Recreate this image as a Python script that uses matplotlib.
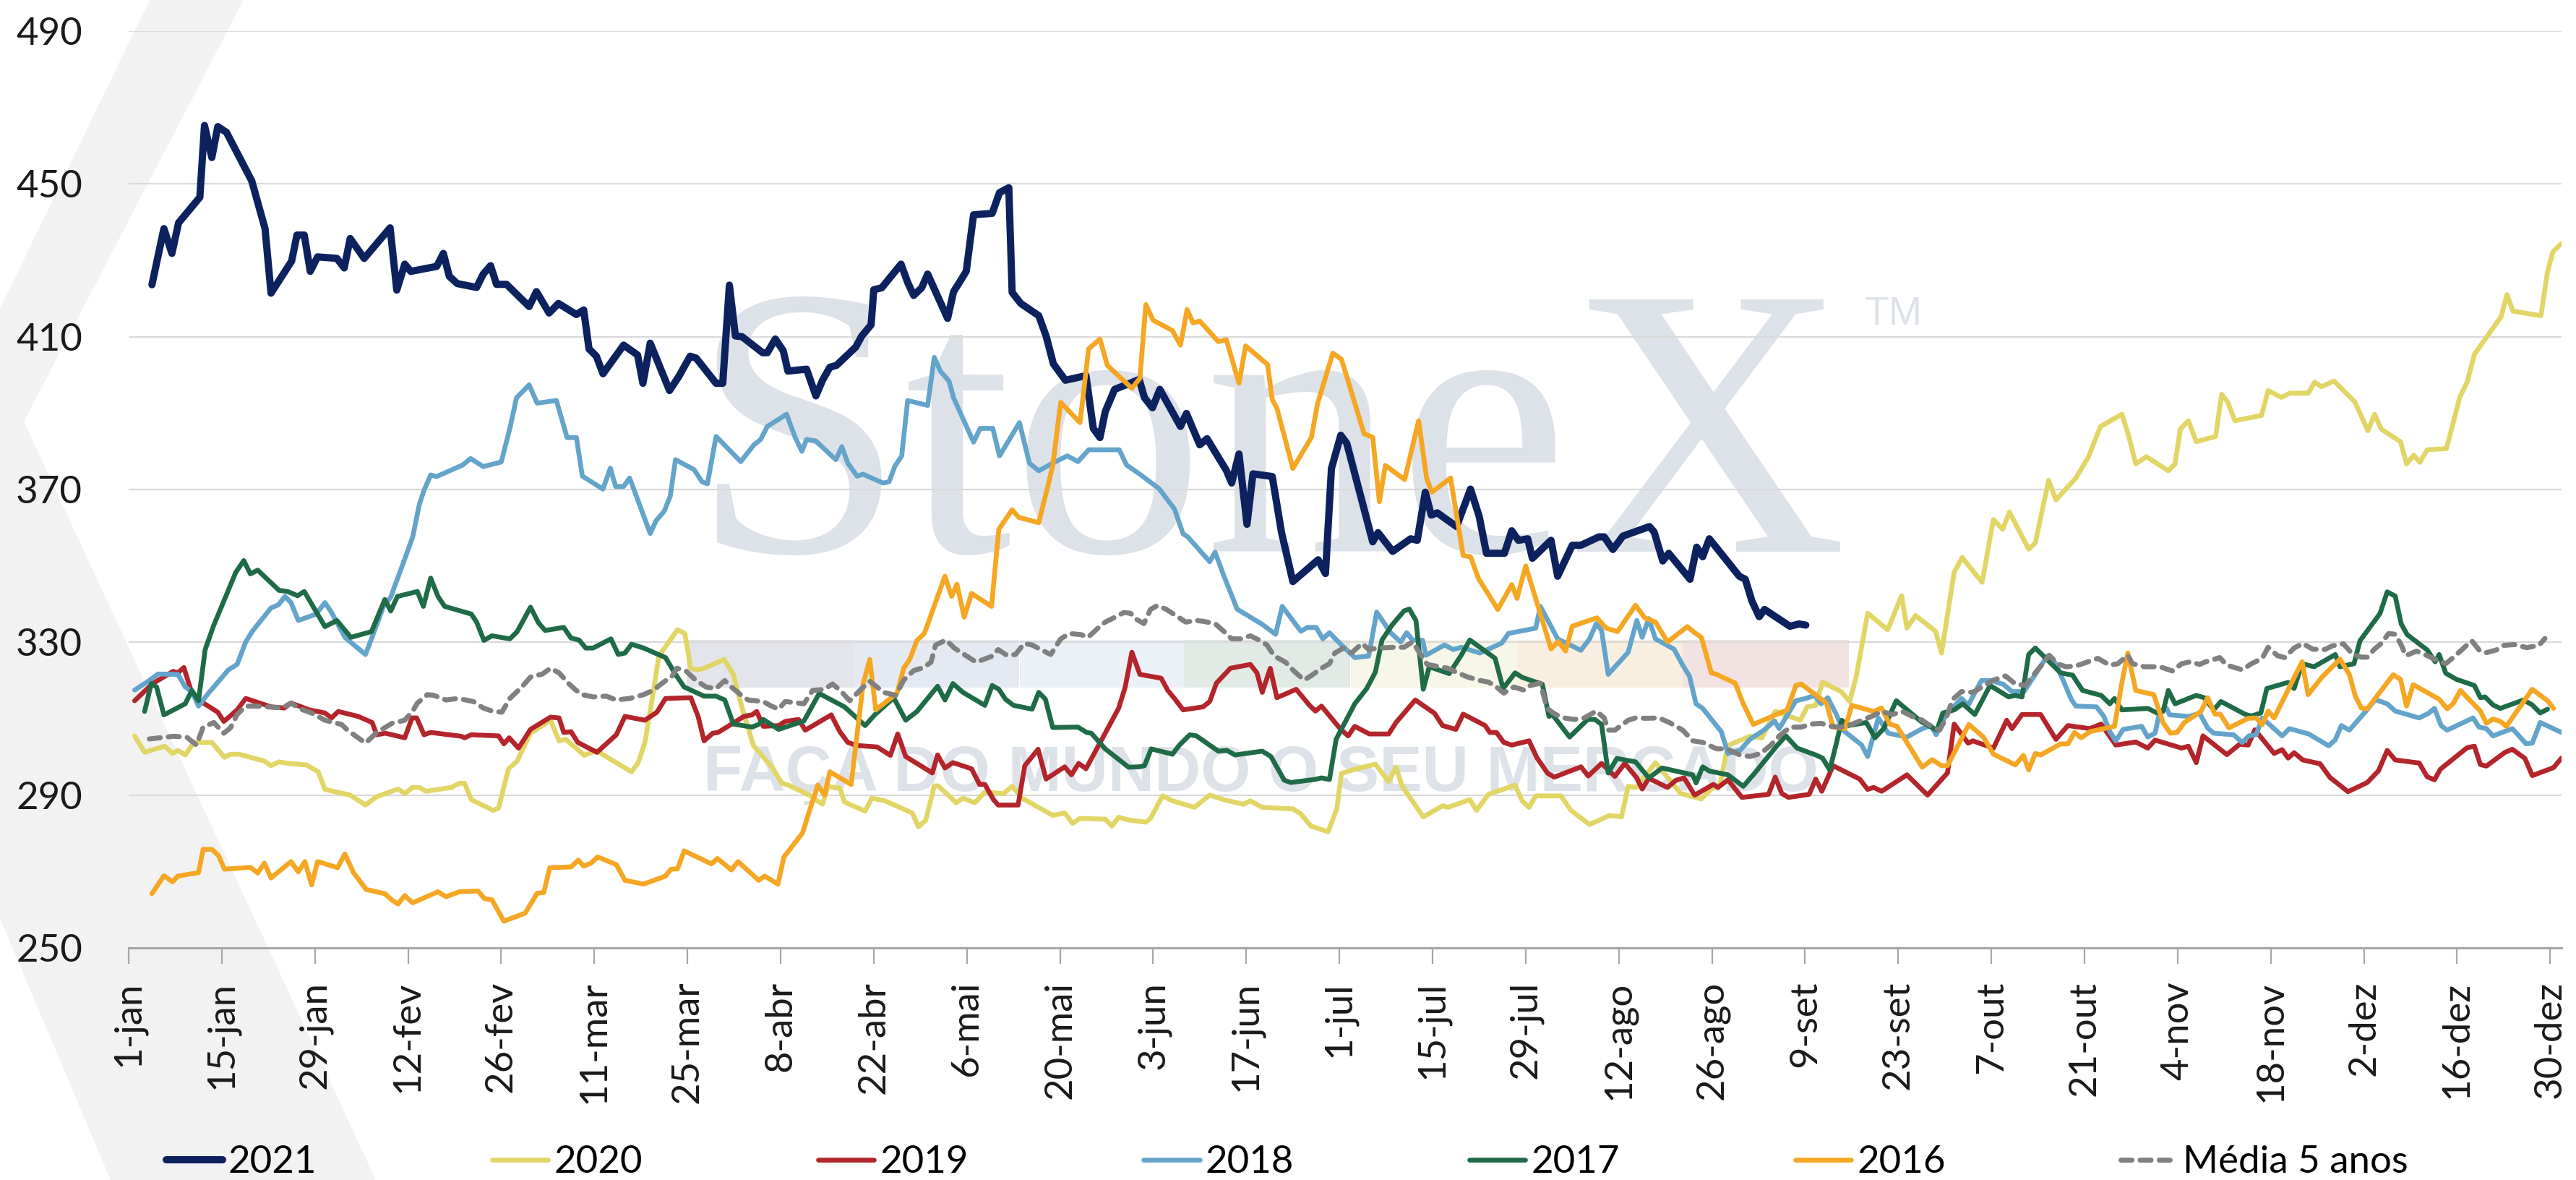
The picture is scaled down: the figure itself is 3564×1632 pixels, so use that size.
# -*- coding: utf-8 -*-
# Preço diário por ano (2016-2021) e média de 5 anos
import matplotlib.pyplot as plt
from matplotlib.patches import Polygon, Rectangle

# ---------------- dados: dia do ano (0 = 1-jan) e valor ----------------
d21 = [3.5, 5.3, 6.5, 7.5, 10.7, 11.4, 12.5, 13.4, 14.7, 18.5, 19.8, 20.5, 21.4, 24.5, 25.3, 26.4, 27.3, 28.4, 31.3, 32.4, 33.3, 35.4, 39.3, 40.3, 41.5, 42.4, 46.3, 47.3, 48.2, 49.4, 52.3, 53.3, 54.4, 55.3, 56.8, 60.2, 61.3, 63.2, 64.6, 67.3, 68.4, 69.2, 70.3, 71.3, 74.4, 76.5, 77.3, 78.4, 81.3, 82.7, 84.4, 85.3, 88.3, 89.3, 90.3, 91.2, 92.2, 95.3, 96.0, 97.2, 98.4, 99.1, 101.9, 103.3, 104.3, 105.4, 106.4, 109.3, 110.2, 111.6, 112.0, 113.2, 116.1, 117.1, 118.0, 119.2, 120.1, 123.1, 124.0, 124.7, 125.9, 127.0, 129.8, 130.9, 132.3, 132.8, 134.1, 136.8, 137.9, 139.0, 140.8, 143.9, 145.0, 146.0, 146.8, 148.2, 151.9, 152.7, 153.9, 155.0, 158.1, 159.0, 161.0, 162.1, 165.0, 165.8, 166.9, 168.1, 169.0, 171.9, 173.3, 175.0, 178.8, 179.9, 180.8, 182.2, 183.1, 187.0, 187.8, 190.0, 192.7, 193.7, 194.9, 195.8, 196.7, 199.6, 201.7, 203.0, 204.1, 206.8, 207.9, 208.9, 210.3, 211.0, 213.8, 214.8, 217.0, 218.3, 221.0, 221.8, 223.1, 224.6, 228.6, 229.3, 230.6, 231.5, 234.7, 235.7, 236.6, 237.6, 242.1, 243.0, 244.0, 245.1, 245.9, 249.7, 251.1, 252.1]
v21 = [423.6, 438.3, 431.8, 439.8, 446.5, 465.3, 456.9, 465.0, 463.5, 450.8, 442.7, 438.3, 421.4, 429.8, 436.6, 436.6, 427.1, 430.9, 430.5, 428.0, 435.7, 430.5, 438.5, 422.2, 429.0, 427.1, 428.4, 431.8, 425.8, 423.9, 422.9, 426.4, 428.6, 423.7, 423.7, 417.9, 421.8, 416.2, 418.7, 415.8, 417.0, 406.8, 404.9, 400.3, 407.8, 405.2, 397.8, 408.3, 395.9, 399.6, 404.9, 404.4, 397.8, 397.8, 423.5, 410.2, 410.0, 405.8, 405.8, 409.4, 406.3, 401.0, 401.5, 394.5, 398.6, 402.0, 402.5, 407.3, 410.2, 413.1, 422.3, 422.8, 429.0, 424.2, 420.8, 422.8, 426.4, 414.8, 421.8, 423.7, 427.1, 441.9, 442.3, 447.7, 449.0, 421.6, 418.7, 415.5, 410.2, 402.9, 398.6, 399.8, 386.0, 383.6, 390.4, 396.2, 398.8, 394.0, 391.4, 396.2, 386.5, 389.9, 381.7, 383.3, 375.0, 371.7, 379.3, 360.9, 374.1, 373.4, 358.7, 345.9, 351.6, 348.0, 375.5, 384.2, 382.1, 356.3, 358.7, 353.8, 357.1, 356.7, 369.3, 363.3, 363.9, 360.3, 370.1, 363.0, 353.3, 353.3, 359.2, 356.7, 357.1, 352.0, 356.7, 347.3, 355.4, 355.4, 357.6, 357.6, 354.3, 357.8, 360.3, 358.9, 351.3, 353.3, 346.5, 354.9, 352.4, 357.1, 347.3, 346.5, 340.8, 336.7, 338.6, 334.2, 334.8, 334.5]

d20 = [0.9, 2.4, 5.4, 6.6, 7.4, 8.5, 9.8, 12.5, 14.4, 15.3, 16.6, 20.4, 21.4, 22.6, 23.9, 26.7, 28.5, 29.5, 33.3, 35.6, 37.3, 40.5, 41.5, 42.7, 43.7, 44.7, 48.5, 49.7, 50.5, 51.5, 54.8, 55.6, 57.1, 58.4, 60.4, 63.4, 64.7, 65.7, 68.5, 70.3, 72.5, 75.6, 76.6, 77.6, 78.7, 79.7, 82.5, 83.6, 84.5, 85.5, 86.5, 89.5, 90.9, 92.1, 93.9, 96.7, 98.2, 99.2, 102.3, 104.3, 105.1, 106.9, 107.6, 110.7, 111.7, 113.7, 117.8, 118.7, 119.8, 121.1, 121.7, 124.4, 125.4, 127.2, 128.7, 131.5, 132.8, 134.3, 138.9, 140.7, 141.9, 143.0, 146.8, 147.8, 148.8, 150.3, 152.9, 153.6, 155.4, 156.9, 160.2, 162.5, 164.6, 167.6, 168.6, 170.4, 175.0, 176.2, 177.7, 180.3, 181.6, 182.3, 184.6, 187.4, 189.4, 190.5, 191.4, 194.6, 197.5, 198.3, 201.6, 202.6, 204.4, 208.4, 209.5, 210.5, 211.5, 215.3, 216.8, 219.6, 222.6, 224.4, 225.4, 226.6, 229.5, 231.0, 233.3, 236.4, 237.9, 239.2, 240.4, 243.7, 245.5, 247.5, 248.8, 251.3, 252.3, 253.6, 254.6, 257.4, 258.7, 259.7, 261.4, 264.4, 266.5, 267.3, 268.6, 271.6, 272.5, 274.4, 275.6, 278.6, 280.3, 281.7, 282.7, 285.6, 286.6, 288.6, 289.7, 292.7, 294.6, 296.4, 299.6, 300.6, 301.7, 303.3, 306.6, 307.6, 308.4, 309.6, 310.8, 313.7, 314.6, 315.5, 316.6, 320.6, 321.6, 323.6, 324.8, 327.6, 328.6, 329.6, 331.5, 334.6, 336.6, 337.6, 338.6, 341.5, 342.4, 343.5, 344.4, 345.5, 348.4, 349.6, 350.4, 351.5, 352.6, 356.6, 357.5, 358.4, 362.6, 363.6, 364.4, 365.6]
v20 = [305.5, 301.2, 302.8, 300.9, 301.7, 300.5, 303.8, 303.8, 299.9, 300.7, 300.7, 298.9, 297.7, 298.7, 298.3, 297.9, 296.1, 291.5, 290.0, 287.4, 289.6, 291.6, 290.4, 292.0, 292.0, 291.0, 292.0, 293.1, 293.1, 288.8, 286.0, 286.6, 296.9, 298.9, 306.2, 309.6, 304.2, 304.6, 300.4, 301.7, 299.3, 296.1, 298.5, 303.8, 315.1, 326.4, 333.3, 332.3, 323.2, 322.8, 323.2, 325.5, 321.6, 313.5, 303.0, 297.3, 293.1, 292.6, 290.0, 287.6, 292.3, 291.8, 288.2, 285.8, 289.2, 288.5, 285.3, 281.7, 283.4, 292.4, 292.4, 288.0, 289.2, 288.0, 290.8, 290.4, 292.3, 289.2, 284.7, 285.3, 282.6, 283.9, 283.7, 281.9, 284.2, 283.5, 282.9, 283.9, 289.8, 288.5, 286.8, 290.0, 288.8, 287.6, 288.5, 286.8, 286.4, 285.1, 281.9, 280.4, 286.4, 295.7, 296.9, 298.1, 293.6, 297.3, 292.4, 284.3, 287.2, 286.8, 288.8, 286.0, 290.2, 292.6, 288.4, 286.8, 289.8, 289.8, 286.0, 282.3, 284.7, 284.3, 292.3, 292.0, 298.5, 295.3, 290.4, 289.0, 291.6, 292.8, 303.0, 305.4, 305.0, 311.9, 311.1, 309.6, 313.1, 313.5, 319.6, 317.1, 314.5, 321.2, 337.6, 333.3, 342.2, 333.7, 337.0, 332.9, 327.2, 348.3, 352.2, 345.7, 362.1, 359.6, 364.1, 354.4, 356.0, 372.4, 367.3, 373.0, 378.6, 386.5, 389.7, 384.3, 376.7, 378.6, 374.9, 376.7, 385.8, 388.0, 382.5, 383.9, 394.9, 393.0, 388.0, 389.4, 395.9, 394.1, 395.2, 395.2, 398.1, 396.9, 398.4, 393.0, 385.4, 389.7, 385.8, 382.5, 376.7, 379.0, 377.1, 380.4, 380.7, 388.7, 394.1, 398.1, 405.4, 415.2, 421.0, 416.7, 415.5, 427.1, 432.2, 434.3]

d19 = [0.9, 3.6, 6.7, 7.4, 8.3, 9.5, 10.7, 13.4, 14.3, 15.0, 16.3, 17.6, 21.4, 23.4, 24.4, 27.2, 29.5, 30.5, 31.5, 34.5, 36.6, 37.3, 38.6, 41.5, 42.6, 43.3, 44.4, 45.4, 50.0, 50.5, 51.5, 55.6, 56.4, 57.2, 58.6, 60.4, 63.4, 64.7, 65.4, 66.5, 67.5, 70.4, 73.3, 74.6, 77.6, 79.4, 80.7, 84.5, 85.6, 86.5, 87.8, 88.6, 92.5, 93.7, 94.4, 95.4, 97.7, 98.7, 100.7, 101.7, 105.6, 106.9, 108.1, 109.4, 112.5, 114.5, 115.6, 116.8, 120.8, 121.6, 122.7, 123.9, 126.7, 127.9, 128.7, 130.0, 130.7, 133.7, 134.7, 136.7, 137.9, 140.7, 141.7, 142.8, 143.9, 148.8, 149.8, 150.8, 152.0, 155.2, 156.2, 157.2, 158.5, 161.5, 162.5, 163.5, 165.6, 168.6, 169.6, 170.4, 171.6, 172.6, 175.5, 177.5, 178.4, 179.3, 182.1, 183.3, 184.3, 186.5, 189.4, 190.5, 193.4, 196.3, 197.5, 199.5, 200.6, 203.9, 204.6, 205.6, 206.7, 207.9, 210.5, 211.7, 213.3, 214.3, 218.3, 219.4, 221.4, 223.4, 224.9, 226.7, 227.5, 228.5, 231.3, 232.6, 233.8, 235.4, 238.2, 238.9, 240.4, 242.5, 246.5, 247.5, 248.5, 249.5, 252.6, 253.6, 254.5, 256.2, 260.2, 261.4, 262.3, 263.5, 267.3, 270.4, 273.4, 274.4, 276.5, 277.2, 280.3, 281.6, 282.3, 283.1, 284.6, 287.4, 289.7, 291.5, 294.8, 296.5, 298.7, 301.7, 303.5, 304.6, 308.6, 309.6, 310.8, 311.8, 315.4, 317.3, 318.6, 319.6, 322.5, 323.7, 324.6, 325.5, 326.8, 329.4, 330.9, 333.6, 336.5, 338.2, 339.5, 340.7, 344.3, 345.5, 346.6, 347.5, 351.5, 352.6, 353.5, 354.4, 357.2, 358.3, 360.2, 361.3, 364.5, 365.7]
v19 = [314.7, 319.2, 322.4, 322.0, 323.4, 316.7, 314.7, 311.7, 309.3, 310.3, 312.3, 315.3, 313.1, 312.8, 314.1, 312.3, 311.5, 310.2, 311.9, 310.6, 309.0, 305.8, 306.2, 305.0, 310.2, 310.2, 305.8, 306.4, 305.4, 305.0, 305.8, 305.5, 303.4, 305.0, 302.3, 307.2, 310.4, 310.2, 306.4, 306.6, 303.8, 301.2, 305.8, 310.6, 309.6, 311.7, 315.3, 315.5, 310.6, 304.2, 306.2, 306.4, 310.6, 311.0, 311.9, 308.0, 308.2, 309.3, 309.8, 307.0, 311.0, 306.6, 303.8, 303.0, 302.6, 300.4, 306.0, 300.1, 295.8, 300.5, 297.1, 298.5, 296.9, 292.8, 292.8, 288.8, 287.4, 287.4, 297.7, 302.0, 294.2, 297.4, 295.3, 298.3, 296.9, 312.7, 318.3, 327.4, 321.6, 320.6, 317.4, 315.3, 312.3, 313.1, 314.5, 319.3, 323.2, 324.2, 322.0, 316.9, 323.2, 315.5, 317.7, 313.5, 312.0, 313.3, 307.4, 305.5, 308.0, 306.0, 306.0, 309.0, 314.9, 311.4, 308.2, 307.2, 311.2, 308.2, 306.4, 306.4, 303.8, 303.1, 304.2, 299.7, 295.7, 294.7, 297.4, 295.0, 298.3, 294.9, 298.3, 294.5, 291.6, 294.4, 292.0, 293.9, 294.5, 290.0, 292.8, 292.0, 294.0, 289.4, 290.2, 294.7, 290.4, 289.4, 290.2, 294.2, 291.0, 297.7, 294.2, 291.5, 292.0, 291.0, 295.3, 290.0, 295.8, 308.6, 303.6, 304.2, 302.3, 307.0, 309.6, 307.4, 311.1, 311.1, 304.6, 308.2, 307.4, 308.6, 303.1, 303.9, 302.3, 304.4, 302.3, 302.8, 298.5, 305.5, 300.6, 303.3, 303.1, 307.1, 300.9, 301.9, 299.7, 301.1, 299.2, 298.2, 294.6, 290.9, 293.3, 296.4, 301.7, 299.2, 298.4, 294.8, 294.0, 296.8, 302.4, 302.8, 298.0, 297.6, 301.2, 302.0, 299.6, 295.1, 297.2, 299.7]

d18 = [0.9, 3.1, 4.4, 7.4, 8.5, 9.5, 10.5, 12.0, 15.0, 16.3, 17.6, 18.6, 21.4, 22.5, 23.5, 24.4, 25.5, 28.2, 29.5, 30.5, 32.5, 35.6, 36.8, 38.3, 39.4, 39.9, 41.1, 42.7, 43.7, 44.4, 45.4, 46.3, 50.2, 51.4, 53.3, 56.0, 57.3, 58.3, 60.2, 61.4, 64.3, 65.9, 67.3, 68.2, 71.3, 72.4, 73.2, 74.4, 75.3, 78.4, 79.3, 80.5, 81.4, 82.2, 85.0, 86.2, 87.0, 88.3, 92.0, 94.0, 95.0, 96.0, 98.9, 100.2, 101.2, 101.9, 103.3, 106.3, 107.2, 108.1, 109.5, 110.4, 113.4, 114.3, 115.2, 116.2, 117.1, 120.1, 121.1, 122.0, 123.3, 124.0, 127.0, 128.0, 129.9, 130.9, 133.9, 135.4, 136.8, 138.9, 141.1, 142.7, 144.3, 148.9, 150.0, 152.0, 154.9, 157.2, 158.5, 159.2, 162.5, 163.3, 164.6, 166.1, 166.6, 170.4, 172.4, 173.4, 176.2, 177.2, 178.5, 179.5, 180.5, 182.3, 184.3, 186.4, 187.6, 189.7, 191.2, 192.1, 193.0, 194.5, 195.0, 197.8, 199.1, 200.3, 203.1, 206.4, 207.4, 211.5, 212.2, 214.8, 218.3, 219.6, 220.6, 221.4, 222.4, 225.4, 226.7, 227.5, 228.5, 229.5, 232.3, 233.6, 234.6, 235.6, 236.6, 239.4, 240.4, 242.2, 243.7, 245.8, 247.4, 248.1, 250.6, 252.1, 253.4, 254.4, 255.4, 256.7, 257.7, 260.5, 261.4, 263.0, 264.5, 267.3, 269.6, 270.9, 271.7, 273.2, 275.5, 276.5, 278.5, 280.0, 281.8, 283.1, 284.9, 288.4, 289.7, 292.0, 292.7, 295.8, 296.9, 297.8, 298.7, 299.8, 302.6, 303.5, 304.6, 305.3, 306.3, 306.8, 309.7, 311.3, 312.5, 313.4, 316.4, 317.7, 318.7, 319.8, 320.7, 323.7, 324.8, 327.7, 330.7, 331.7, 332.6, 333.8, 336.3, 337.7, 339.5, 340.7, 344.3, 345.7, 346.6, 347.6, 348.5, 352.4, 353.3, 354.4, 355.4, 358.3, 360.4, 361.3, 362.5, 365.7]
v18 = [317.5, 320.0, 321.7, 321.6, 318.3, 317.1, 313.3, 316.7, 322.8, 324.2, 330.1, 332.9, 339.0, 339.8, 342.0, 340.4, 335.7, 337.4, 340.4, 337.8, 331.3, 326.8, 332.3, 339.4, 341.8, 344.3, 349.9, 357.6, 366.1, 369.8, 373.8, 373.4, 376.4, 378.1, 376.0, 377.2, 386.0, 394.0, 397.4, 392.6, 393.3, 383.6, 383.6, 373.5, 370.1, 375.6, 370.8, 370.8, 373.0, 358.5, 361.9, 364.3, 368.2, 377.8, 375.2, 372.0, 371.5, 383.9, 377.3, 381.7, 383.1, 386.5, 389.7, 383.6, 380.0, 383.1, 382.7, 377.8, 381.2, 376.9, 373.5, 374.0, 371.7, 372.0, 376.2, 378.8, 393.3, 392.0, 404.6, 401.0, 398.4, 394.0, 382.4, 386.0, 386.0, 378.8, 387.5, 376.9, 374.9, 376.9, 378.8, 377.3, 380.4, 380.4, 376.4, 374.0, 370.2, 364.9, 358.4, 357.6, 351.1, 353.6, 347.5, 341.0, 338.7, 334.7, 332.1, 339.4, 332.9, 333.9, 333.9, 330.9, 332.5, 329.3, 326.0, 326.4, 337.9, 332.5, 330.1, 332.5, 330.6, 330.5, 326.6, 329.3, 328.1, 328.7, 327.2, 329.8, 332.3, 333.7, 339.4, 330.9, 327.9, 330.9, 334.9, 333.1, 321.6, 327.4, 335.7, 331.3, 336.2, 330.9, 328.2, 324.0, 321.2, 313.9, 312.7, 306.6, 300.9, 301.7, 304.6, 307.0, 309.4, 307.4, 314.7, 315.3, 316.1, 313.9, 315.5, 311.1, 307.0, 303.1, 300.1, 310.2, 306.2, 305.2, 307.4, 308.2, 305.8, 311.1, 315.3, 313.5, 320.0, 320.0, 319.0, 317.1, 317.1, 326.4, 324.4, 315.1, 313.3, 313.1, 310.6, 306.6, 304.2, 307.2, 308.0, 305.2, 306.2, 311.9, 312.8, 311.0, 310.6, 311.4, 307.6, 306.2, 305.8, 303.8, 305.5, 305.8, 310.2, 305.5, 307.4, 306.0, 302.9, 304.5, 308.2, 307.0, 312.0, 315.0, 313.9, 312.0, 310.2, 311.4, 312.7, 308.2, 307.0, 310.2, 307.8, 307.4, 305.5, 307.4, 303.4, 303.6, 309.0, 306.4]

d17 = [2.4, 3.4, 4.2, 5.3, 8.5, 9.5, 10.5, 11.5, 12.8, 16.1, 17.3, 18.3, 19.4, 22.6, 23.9, 25.4, 26.4, 29.5, 31.3, 33.4, 36.5, 38.5, 39.4, 40.4, 43.4, 44.3, 45.4, 46.5, 47.5, 51.5, 52.3, 53.4, 54.6, 57.3, 58.4, 60.4, 61.6, 62.6, 65.4, 66.5, 67.7, 68.7, 69.8, 72.5, 73.6, 74.6, 75.6, 77.4, 80.7, 82.2, 83.5, 86.5, 88.3, 89.6, 90.9, 93.7, 94.7, 95.4, 97.7, 101.5, 103.8, 107.6, 110.7, 112.2, 115.0, 116.8, 118.5, 121.6, 122.7, 123.9, 125.4, 128.7, 129.8, 130.8, 131.8, 133.0, 135.8, 136.8, 137.8, 138.9, 142.7, 144.0, 144.7, 146.8, 150.3, 151.9, 152.7, 153.7, 156.9, 157.9, 159.5, 160.5, 163.8, 165.1, 166.3, 170.4, 171.7, 173.7, 174.7, 178.3, 179.3, 180.5, 181.5, 184.3, 186.1, 187.4, 188.4, 189.9, 191.7, 192.5, 193.5, 194.6, 195.5, 198.5, 200.3, 201.6, 205.4, 206.6, 208.4, 209.5, 212.5, 213.5, 214.0, 216.6, 219.3, 220.4, 221.4, 222.4, 223.7, 226.5, 228.5, 230.5, 235.1, 235.6, 236.6, 237.6, 240.4, 242.7, 244.2, 247.8, 249.1, 250.8, 253.6, 254.6, 255.7, 256.7, 257.5, 258.5, 261.2, 262.5, 263.8, 265.7, 269.4, 271.8, 272.7, 274.4, 275.7, 277.5, 279.8, 282.6, 283.6, 284.6, 285.6, 286.6, 289.7, 290.4, 292.2, 293.7, 296.5, 297.8, 298.5, 299.6, 303.5, 304.9, 305.8, 306.6, 307.6, 310.8, 312.0, 313.4, 314.5, 318.2, 319.1, 320.5, 321.4, 324.6, 325.5, 326.7, 328.5, 331.7, 332.4, 334.5, 335.4, 338.4, 339.5, 340.7, 341.6, 342.5, 345.5, 346.7, 347.3, 348.3, 349.9, 352.6, 353.5, 354.2, 355.4, 356.5, 360.0, 361.3, 362.5, 363.6]
v17 = [311.9, 319.2, 318.3, 311.0, 313.9, 317.4, 314.7, 328.1, 334.5, 348.3, 351.4, 347.9, 348.9, 343.6, 343.3, 342.2, 343.3, 334.1, 335.7, 331.3, 332.8, 341.2, 338.2, 342.0, 343.3, 339.4, 346.8, 342.0, 339.4, 337.4, 335.3, 330.5, 331.7, 330.9, 332.8, 339.2, 335.1, 333.1, 333.9, 331.1, 330.6, 328.5, 328.5, 330.9, 326.8, 327.2, 329.5, 328.5, 326.0, 321.6, 318.3, 315.9, 315.9, 314.9, 308.6, 307.8, 308.5, 309.8, 307.2, 309.4, 316.6, 313.1, 308.2, 311.1, 315.5, 309.6, 311.9, 318.5, 314.9, 319.2, 316.9, 313.5, 318.7, 317.7, 315.1, 313.5, 312.5, 316.9, 315.1, 307.7, 307.8, 306.4, 306.2, 302.1, 297.3, 297.4, 297.7, 302.1, 300.7, 303.0, 305.8, 305.5, 301.5, 301.7, 300.5, 301.5, 300.1, 293.9, 293.3, 294.1, 294.5, 294.1, 304.6, 313.9, 317.9, 322.2, 330.6, 334.5, 338.2, 338.7, 335.7, 317.7, 323.6, 321.8, 326.6, 330.6, 325.8, 317.9, 322.0, 320.8, 319.0, 310.6, 311.1, 305.2, 309.8, 309.8, 308.5, 295.8, 299.6, 298.7, 294.5, 297.1, 295.3, 293.2, 297.4, 296.3, 295.3, 292.3, 295.3, 303.0, 305.5, 302.3, 300.5, 299.7, 296.6, 303.6, 309.6, 308.2, 309.0, 305.0, 307.4, 314.7, 309.3, 307.0, 311.5, 312.3, 313.9, 311.1, 318.7, 315.7, 316.1, 315.7, 326.8, 328.5, 323.2, 322.0, 321.4, 317.4, 316.1, 313.9, 315.3, 312.3, 312.7, 311.5, 311.9, 317.4, 313.9, 316.1, 315.5, 312.3, 314.5, 311.1, 310.7, 311.5, 317.9, 319.5, 317.9, 324.4, 323.6, 326.8, 323.6, 324.4, 330.4, 337.5, 343.2, 342.1, 334.8, 332.0, 328.0, 324.9, 326.8, 321.9, 320.3, 318.7, 315.5, 315.7, 313.6, 312.7, 314.9, 313.6, 311.5, 312.5]

d16 = [3.5, 5.3, 6.6, 7.4, 10.5, 11.2, 12.5, 13.5, 14.4, 18.3, 19.4, 20.4, 21.4, 24.4, 25.5, 26.5, 27.5, 28.4, 31.4, 32.5, 33.8, 35.7, 38.5, 39.6, 40.5, 41.5, 42.7, 46.5, 47.7, 49.7, 52.5, 53.5, 54.6, 56.4, 59.6, 61.4, 62.4, 63.3, 66.5, 67.6, 68.4, 69.5, 70.5, 73.3, 74.6, 77.4, 80.7, 81.5, 82.5, 83.5, 87.6, 88.5, 90.6, 91.6, 94.7, 95.6, 97.6, 98.5, 101.3, 102.5, 103.6, 104.6, 105.4, 108.6, 110.4, 111.4, 112.3, 115.5, 116.5, 117.4, 118.5, 119.6, 122.7, 123.7, 124.5, 125.6, 126.7, 129.7, 130.8, 132.8, 133.8, 136.8, 137.9, 138.9, 140.1, 143.0, 144.3, 146.0, 147.1, 150.8, 152.0, 152.9, 154.0, 156.9, 158.1, 159.1, 160.0, 161.0, 163.8, 165.0, 166.9, 167.9, 171.2, 171.9, 172.6, 175.0, 177.8, 178.7, 181.0, 182.3, 185.7, 187.0, 188.0, 188.9, 191.8, 193.9, 195.1, 195.9, 198.7, 200.6, 201.7, 202.9, 205.8, 207.9, 208.7, 210.0, 213.8, 214.9, 216.0, 217.0, 220.7, 222.1, 223.8, 226.5, 227.9, 229.5, 231.3, 234.3, 235.4, 236.4, 237.9, 238.7, 241.5, 242.7, 244.2, 249.3, 250.6, 251.4, 255.2, 256.2, 258.0, 259.0, 262.3, 263.5, 264.7, 265.8, 269.6, 271.1, 272.5, 273.4, 276.6, 278.8, 280.3, 283.6, 284.8, 285.6, 286.6, 287.4, 290.4, 291.5, 292.5, 293.5, 294.8, 298.5, 299.6, 300.5, 301.7, 304.4, 305.8, 306.9, 307.9, 309.0, 311.5, 312.5, 313.6, 314.4, 315.7, 318.6, 319.8, 320.7, 321.6, 322.5, 326.7, 327.6, 329.7, 332.4, 333.8, 334.7, 335.6, 336.5, 340.4, 341.5, 342.4, 343.4, 347.3, 348.5, 349.4, 350.5, 353.5, 354.4, 355.4, 356.5, 357.4, 361.3, 363.6, 364.5]
v16 = [264.2, 268.9, 267.3, 268.8, 269.7, 275.8, 275.8, 274.2, 270.6, 271.1, 269.6, 272.2, 268.3, 272.6, 269.9, 272.6, 266.5, 272.6, 271.0, 274.6, 269.7, 265.3, 264.2, 262.5, 261.5, 263.7, 261.8, 264.7, 263.4, 264.7, 264.9, 262.9, 262.6, 257.0, 259.1, 264.3, 264.5, 271.0, 271.2, 273.0, 271.4, 272.2, 273.8, 271.8, 267.7, 266.7, 268.8, 270.6, 270.7, 275.4, 272.0, 273.4, 270.4, 272.6, 267.7, 268.8, 266.7, 273.8, 280.1, 286.8, 292.6, 290.0, 296.1, 292.8, 319.1, 325.5, 312.3, 316.7, 323.2, 325.5, 330.5, 332.3, 347.3, 342.0, 345.2, 336.6, 342.8, 339.4, 359.6, 364.7, 362.7, 361.3, 369.0, 376.2, 392.8, 387.5, 406.8, 409.4, 402.5, 396.5, 399.1, 418.4, 414.3, 411.6, 407.8, 417.1, 413.6, 414.1, 408.7, 409.2, 397.8, 407.6, 402.7, 393.5, 391.3, 375.5, 383.7, 392.4, 405.7, 404.1, 384.6, 383.7, 366.8, 376.3, 372.6, 388.0, 373.0, 369.3, 373.0, 352.7, 352.4, 346.7, 338.6, 345.1, 341.5, 350.0, 328.3, 330.2, 327.7, 334.2, 336.4, 333.7, 332.8, 339.7, 336.4, 335.3, 330.1, 334.1, 332.5, 331.3, 322.0, 321.6, 319.3, 313.9, 308.5, 312.3, 318.7, 319.1, 314.1, 307.8, 307.4, 313.5, 311.9, 312.8, 308.6, 308.0, 297.3, 299.3, 297.7, 297.7, 308.5, 305.2, 300.7, 297.9, 300.4, 296.6, 300.9, 300.5, 303.4, 303.4, 306.4, 305.0, 306.6, 308.0, 319.3, 327.2, 317.4, 316.3, 309.0, 306.2, 306.4, 309.0, 311.9, 315.5, 311.2, 311.2, 307.6, 310.1, 310.2, 308.4, 312.0, 310.2, 324.9, 316.3, 320.9, 325.6, 321.6, 315.9, 312.8, 312.6, 321.5, 320.3, 313.3, 318.9, 315.1, 312.6, 313.9, 317.4, 312.0, 308.8, 309.9, 309.3, 308.0, 317.7, 314.7, 312.7]

d_med = [3.1, 6.7, 8.7, 10.2, 11.2, 12.8, 14.3, 15.3, 16.3, 17.6, 19.4, 23.1, 24.4, 25.9, 27.5, 29.5, 32.0, 32.9, 35.6, 37.3, 39.6, 41.5, 42.7, 43.4, 44.9, 45.9, 47.7, 49.5, 51.8, 53.3, 54.8, 56.1, 57.3, 59.1, 60.4, 62.2, 63.4, 64.7, 66.2, 67.2, 68.2, 69.8, 71.8, 73.3, 75.3, 77.4, 78.9, 80.2, 81.7, 82.4, 83.7, 85.3, 86.8, 88.3, 89.6, 90.6, 92.1, 93.1, 95.4, 96.4, 97.7, 98.7, 101.5, 102.8, 104.6, 105.8, 106.9, 108.4, 110.2, 111.4, 113.5, 115.3, 116.5, 118.0, 119.5, 120.6, 121.3, 122.9, 124.1, 125.6, 127.4, 129.7, 130.7, 132.0, 133.3, 134.6, 135.8, 137.1, 138.6, 140.1, 141.4, 143.2, 144.2, 145.7, 146.8, 148.3, 149.6, 150.6, 151.3, 152.6, 153.6, 154.6, 155.9, 157.4, 158.9, 160.5, 161.5, 163.3, 164.6, 165.8, 167.3, 168.6, 169.9, 171.1, 172.2, 173.9, 175.2, 176.7, 177.7, 179.3, 180.5, 181.3, 182.6, 183.8, 185.4, 186.4, 187.9, 190.2, 191.7, 193.0, 194.2, 195.2, 197.0, 198.3, 199.8, 201.3, 203.1, 204.4, 205.6, 206.7, 208.2, 209.7, 210.7, 212.2, 213.2, 214.5, 215.8, 217.3, 218.8, 220.6, 221.8, 222.4, 223.4, 225.4, 226.5, 228.0, 230.0, 231.6, 233.6, 235.1, 236.6, 238.7, 240.2, 242.2, 243.7, 245.3, 246.8, 248.3, 249.8, 251.4, 252.9, 254.4, 255.9, 257.4, 259.0, 260.5, 262.0, 263.5, 265.1, 266.6, 268.1, 269.6, 271.1, 272.2, 273.2, 274.2, 275.5, 277.2, 278.8, 280.3, 282.1, 283.6, 285.1, 286.4, 287.7, 288.7, 289.9, 291.2, 292.7, 294.2, 296.0, 297.8, 299.0, 300.5, 301.2, 303.0, 305.3, 307.2, 308.6, 309.9, 311.3, 312.2, 313.4, 314.3, 315.4, 317.7, 319.1, 320.7, 321.6, 323.0, 324.1, 325.5, 326.8, 328.3, 330.1, 331.3, 332.9, 334.3, 335.6, 336.5, 337.5, 338.6, 339.7, 340.7, 341.6, 342.3, 343.9, 345.5, 346.6, 348.3, 349.4, 350.8, 352.2, 353.3, 354.2, 355.9, 357.0, 358.6, 360.5, 362.3, 363.2]
v_med = [304.7, 305.4, 305.2, 303.1, 307.8, 309.0, 306.2, 307.6, 311.1, 313.3, 313.3, 312.8, 314.1, 312.5, 311.5, 309.6, 308.5, 307.0, 303.6, 306.4, 308.8, 309.6, 312.0, 314.1, 316.3, 316.1, 314.9, 315.3, 314.5, 312.8, 311.9, 311.7, 315.3, 318.3, 320.9, 321.7, 323.2, 322.0, 319.1, 317.5, 316.3, 315.7, 315.9, 314.9, 315.3, 316.3, 317.5, 319.3, 321.2, 323.2, 322.6, 320.0, 318.3, 317.9, 320.0, 318.3, 316.1, 314.9, 314.5, 313.5, 312.5, 314.5, 313.9, 317.4, 317.7, 319.1, 317.5, 314.7, 317.9, 319.8, 316.9, 316.1, 320.1, 322.6, 323.4, 324.8, 329.3, 330.6, 328.5, 326.8, 324.8, 326.3, 328.1, 326.6, 326.8, 329.7, 329.3, 328.1, 326.8, 330.9, 332.3, 332.0, 331.3, 333.7, 335.3, 336.6, 337.8, 337.6, 336.2, 334.9, 338.6, 339.6, 338.7, 337.0, 335.3, 335.7, 335.5, 334.9, 332.9, 330.9, 330.9, 331.7, 330.6, 329.3, 326.4, 324.8, 322.4, 320.1, 321.2, 323.2, 324.4, 327.2, 328.5, 327.2, 329.7, 328.1, 328.5, 328.7, 328.7, 330.1, 326.8, 324.2, 323.6, 323.2, 322.0, 320.9, 320.0, 319.6, 318.3, 316.7, 318.3, 317.5, 318.7, 319.3, 312.7, 311.1, 310.2, 309.8, 310.2, 312.0, 310.2, 307.0, 307.0, 309.6, 310.2, 310.1, 310.2, 309.0, 307.0, 304.2, 303.8, 302.1, 302.1, 300.5, 300.1, 300.9, 303.0, 305.8, 307.8, 307.8, 308.6, 308.8, 308.0, 307.8, 308.5, 309.6, 310.6, 311.9, 311.1, 311.9, 310.6, 309.6, 307.8, 307.0, 310.2, 315.1, 317.1, 316.9, 318.5, 320.1, 321.2, 319.1, 318.7, 321.6, 324.4, 326.6, 324.4, 323.6, 323.8, 324.7, 325.8, 324.0, 324.4, 326.6, 324.4, 323.6, 323.6, 322.5, 324.4, 324.9, 324.2, 324.9, 325.5, 326.0, 324.0, 322.8, 324.4, 325.8, 328.7, 326.5, 326.0, 328.5, 329.7, 328.2, 328.1, 329.1, 329.6, 326.9, 326.1, 326.1, 328.1, 329.7, 332.3, 332.1, 329.3, 326.5, 327.7, 326.5, 325.6, 324.4, 326.0, 328.2, 330.4, 328.0, 327.2, 328.0, 329.2, 329.4, 328.6, 329.2, 331.0]

rotulos_x = ['1-jan', '15-jan', '29-jan', '12-fev', '26-fev', '11-mar', '25-mar',
             '8-abr', '22-abr', '6-mai', '20-mai', '3-jun', '17-jun', '1-jul',
             '15-jul', '29-jul', '12-ago', '26-ago', '9-set', '23-set', '7-out',
             '21-out', '4-nov', '18-nov', '2-dez', '16-dez', '30-dez']
ticks_x = [14 * i for i in range(len(rotulos_x))]
ticks_y = [250, 290, 330, 370, 410, 450, 490]

series = [
    ('2021', d21, v21, '#0c215e', 3.6, '-'),
    ('2020', d20, v20, '#e1d665', 2.4, '-'),
    ('2019', d19, v19, '#b3252b', 2.4, '-'),
    ('2018', d18, v18, '#64a4cb', 2.4, '-'),
    ('2017', d17, v17, '#1f6b48', 2.4, '-'),
    ('2016', d16, v16, '#f5a623', 2.4, '-'),
    ('Média 5 anos', d_med, v_med, '#808080', 2.5, (0, (2.2, 1.6))),
]

# ---------------- figura ----------------
W, H, DPI = 3564, 1632, 200
plt.rcParams['font.family'] = ['Lato', 'DejaVu Sans']
fig = plt.figure(figsize=(W / DPI, H / DPI), dpi=DPI)


def fx(px):
    return px / W


def fy(py):
    return 1 - py / H


# fundo decorativo (chevron cinza claro)
chevron = [(207, 0), (337, 0), (33, 583), (520, 1632), (153, 1632), (0, 1270), (0, 427)]
fig.add_artist(Polygon([(fx(x), fy(y)) for x, y in chevron], closed=True,
                       transform=fig.transFigure, facecolor='#f2f2f2',
                       edgecolor='none', zorder=-3))

# marca d'agua
wm = '#dde1e8'
fig.text(fx(955), fy(763), 'StoneX', fontsize=192, family='Liberation Serif',
         color=wm, ha='left', va='baseline', zorder=-2)
fig.text(fx(2580), fy(409), 'TM', fontsize=20, family='Liberation Sans',
         color=wm, ha='left', va='top', zorder=-2)
fig.text(fx(973), fy(1094), 'FAÇA DO MUNDO O SEU MERCADO', fontsize=32,
         family='Liberation Sans', weight='bold', color=wm,
         ha='left', va='baseline', zorder=-2)
faixa = [(950, '#e3e5ea'), (1180, '#e5eaf2'), (1411, '#ecf0f7'), (1638, '#e2eae6'),
         (1869, '#f6f6e9'), (2099, '#f9efe1'), (2328, '#f3e2e2')]
for x0, cor in faixa:
    fig.add_artist(Rectangle((fx(x0), fy(951)), 230 / W, 66 / H,
                             transform=fig.transFigure, facecolor=cor,
                             edgecolor='none', zorder=-2.5))

ax = fig.add_axes([fx(178), fy(1311), (3544 - 178) / W, (1311 - 43) / H])
ax.set_facecolor('none')

for nome, d, v, cor, lw, ls in series:
    if nome.startswith('Média'):
        ax.plot(d, v, color=cor, lw=lw, ls=ls, dash_capstyle='round', label=nome)
    else:
        ax.plot(d, v, color=cor, lw=lw, solid_joinstyle='round',
                solid_capstyle='round', label=nome)

ax.set_xlim(0, 365.7)
ax.set_ylim(250, 490)
ax.set_yticks(ticks_y)
ax.set_xticks(ticks_x)
ax.set_xticklabels(rotulos_x, rotation=90)
ax.grid(axis='y', color='#d9d9d9', lw=0.8)
ax.set_axisbelow(True)
for s in ['top', 'right', 'left']:
    ax.spines[s].set_visible(False)
ax.spines['bottom'].set_color('#a6a6a6')
ax.spines['bottom'].set_linewidth(1.1)
ax.tick_params(axis='x', length=8, width=0.8, color='#a6a6a6', pad=8.5,
               labelsize=19, labelcolor='#1a1a1a')
ax.tick_params(axis='y', length=0, pad=23, labelsize=19, labelcolor='#1a1a1a')

h, l = ax.get_legend_handles_labels()
fig.legend(h, l, loc='center left', bbox_to_anchor=(fx(230), fy(1608)),
           ncol=7, frameon=False, fontsize=19, handlelength=1.47,
           handletextpad=0.15, columnspacing=4.6, borderpad=0, borderaxespad=0)

fig.savefig('out.png', dpi=DPI)
